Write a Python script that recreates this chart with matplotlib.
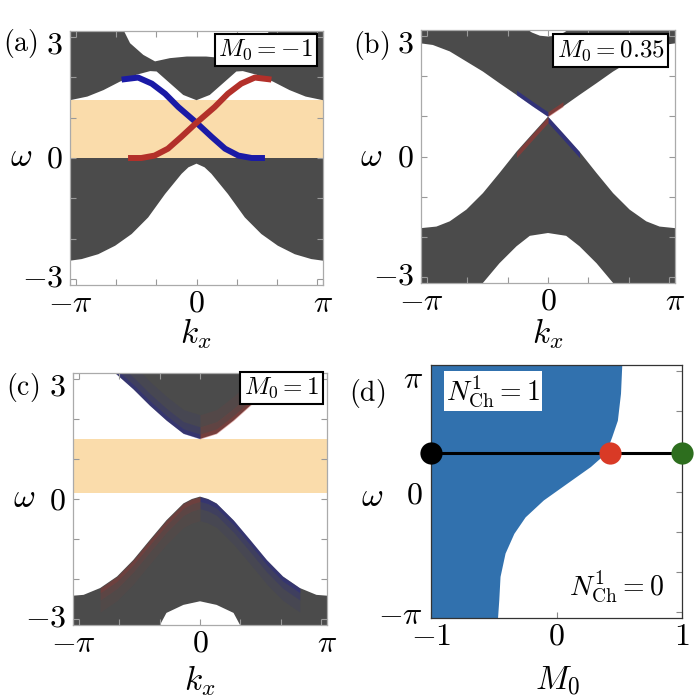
import numpy as np
import matplotlib
matplotlib.use("Agg")
import matplotlib.pyplot as plt
from matplotlib.transforms import ScaledTranslation

plt.rcParams["mathtext.fontset"] = "cm"
plt.rcParams["font.family"] = ["DejaVu Serif"]

PI = np.pi

# ---- panel (a): M0 = -1 ----
a_up_top_k = [-3.3, -1.98, -1.65, -1.32, -1.03, -0.66, -0.24, 0.0, 0.24, 0.66, 1.03, 1.32, 1.65, 1.98, 3.3]
a_up_top_w = [3.5, 3.5, 2.84, 2.55, 2.39, 2.47, 2.51, 2.51, 2.51, 2.47, 2.39, 2.55, 2.84, 3.5, 3.5]
a_up_bot_k = [-3.3, -3.14, -2.71, -2.31, -1.9, -1.49, -1.15, -0.99, -0.66, -0.33, 0.0, 0.33, 0.66, 0.99, 1.15, 1.49, 1.9, 2.31, 2.71, 3.14, 3.3]
a_up_bot_w = [1.43, 1.43, 1.52, 1.68, 1.89, 2.06, 2.15, 2.14, 1.85, 1.56, 1.43, 1.56, 1.85, 2.14, 2.15, 2.06, 1.89, 1.68, 1.52, 1.43, 1.43]
a_lo_top_k = [-3.3, 3.3]
a_lo_top_w = [0.0, 0.0]
a_lo_bot_k = [-3.3, -3.14, -2.85, -2.44, -2.02, -1.61, -1.2, -0.78, -0.37, -0.2, 0.0, 0.2, 0.37, 0.78, 1.2, 1.61, 2.02, 2.44, 2.85, 3.14, 3.3]
a_lo_bot_w = [-2.54, -2.54, -2.50, -2.38, -2.17, -1.88, -1.47, -0.89, -0.39, -0.23, -0.14, -0.23, -0.39, -0.89, -1.47, -1.88, -2.17, -2.38, -2.50, -2.54, -2.54]
a_gap = [0.0, 1.43]
a_blue_k = [-1.86, -1.45, -1.11, -0.78, -0.45, -0.02, 0.38, 0.71, 1.04, 1.37, 1.7]
a_blue_w = [1.94, 1.99, 1.84, 1.59, 1.26, 0.89, 0.52, 0.23, 0.06, 0.0, 0.0]
a_red_k = [-1.7, -1.37, -1.04, -0.71, -0.38, 0.02, 0.45, 0.78, 1.11, 1.45, 1.86]
a_red_w = [0.0, 0.0, 0.06, 0.23, 0.52, 0.89, 1.26, 1.59, 1.84, 1.99, 1.94]

# ---- panel (b): M0 = 0.35 ----
b_up_top_k = [-3.3, -0.58, -0.4, -0.2, 0.0, 0.2, 0.4, 0.58, 3.3]
b_up_top_w = [3.5, 3.2, 3.08, 3.0, 2.98, 3.0, 3.08, 3.2, 3.5]
b_up_bot_k = [-3.3, -3.15, -2.85, -2.43, -2.02, -1.61, -1.2, -0.78, -0.37, 0.0, 0.37, 0.78, 1.2, 1.61, 2.02, 2.43, 2.85, 3.15, 3.3]
b_up_bot_w = [2.81, 2.81, 2.77, 2.61, 2.36, 2.11, 1.82, 1.53, 1.24, 0.99, 1.24, 1.53, 1.82, 2.11, 2.36, 2.61, 2.77, 2.81, 2.81]
b_lo_top_k = [-3.3, -3.15, -2.76, -2.43, -2.02, -1.61, -1.2, -0.78, -0.37, 0.0, 0.37, 0.78, 1.2, 1.61, 2.02, 2.43, 2.76, 3.15, 3.3]
b_lo_top_w = [-1.78, -1.78, -1.74, -1.61, -1.32, -0.91, -0.41, 0.12, 0.58, 0.99, 0.58, 0.12, -0.41, -0.91, -1.32, -1.61, -1.74, -1.78, -1.78]
b_lo_bot_k = [-3.3, -2.0, -1.61, -1.2, -0.78, -0.45, 0.0, 0.45, 0.78, 1.2, 1.61, 2.0, 3.3]
b_lo_bot_w = [-3.6, -3.6, -3.14, -2.65, -2.23, -1.97, -1.90, -1.97, -2.23, -2.65, -3.14, -3.6, -3.6]

# ---- panel (c): M0 = 1 ----
c_up_top_k = [-2.4, 2.4]
c_up_top_w = [3.6, 3.6]
c_up_bot_k = [-2.4, -2.11, -1.65, -1.24, -0.83, -0.41, 0.0, 0.41, 0.83, 1.24, 1.65, 2.11, 2.4]
c_up_bot_w = [3.6, 3.15, 2.74, 2.33, 1.96, 1.63, 1.50, 1.63, 1.96, 2.33, 2.74, 3.15, 3.6]
c_lo_top_k = [-3.3, -3.13, -2.88, -2.47, -2.05, -1.65, -1.24, -0.83, -0.41, -0.2, 0.0, 0.2, 0.41, 0.83, 1.24, 1.65, 2.05, 2.47, 2.88, 3.13, 3.3]
c_lo_top_w = [-2.41, -2.41, -2.39, -2.22, -1.93, -1.52, -1.02, -0.53, -0.11, 0.0, 0.06, 0.0, -0.11, -0.53, -1.02, -1.52, -1.93, -2.22, -2.39, -2.41, -2.41]
c_lo_bot_k = [-3.3, -1.3, -0.99, -0.83, -0.41, 0.0, 0.41, 0.83, 0.99, 1.3, 3.3]
c_lo_bot_w = [-3.6, -3.6, -3.14, -2.84, -2.64, -2.55, -2.64, -2.84, -3.14, -3.6, -3.6]
c_gap = [0.15, 1.50]

# ---- panel (d): phase diagram ----
d_w = [3.3, 3.14, 2.44, 1.77, 1.36, 0.95, 0.62, 0.2, -0.21, -0.63, -1.04, -1.53, -2.11, -2.69, -3.14, -3.3]
d_m = [0.52, 0.52, 0.51, 0.485, 0.44, 0.39, 0.27, 0.08, -0.105, -0.25, -0.34, -0.41, -0.45, -0.46, -0.47, -0.47]
d_line_w = 0.95
d_dots_m = [-1.0, 0.43, 1.0]
d_dots_c = ["black", "#d93a26", "#2d6e1e"]

GRAY = "#4b4b4b"
GAP = "#fadcab"
BLUE = "#1a1aa6"
RED = "#b3302a"
FILL = "#3171ae"

fig = plt.figure(figsize=(7, 7), dpi=100)


def band(ax, kt, wt, kb, wb):
    xs = list(kt) + list(kb)[::-1]
    ys = list(wt) + list(wb)[::-1]
    ax.fill(xs, ys, color=GRAY, lw=0)


def nudge_y(ax, shifts):
    # move the outer y tick labels a few pixels towards the centre
    for lab, dy in zip(ax.get_yticklabels(), shifts):
        lab.set_transform(lab.get_transform() + ScaledTranslation(0, dy / 100, fig.dpi_scale_trans))


def style_k(ax):
    ax.set_xlim(-PI, PI)
    ax.set_ylim(-PI, PI)
    ax.set_xticks([-PI, 0, PI])
    ax.set_xticklabels([r"$-\pi$", r"$0$", r"$\pi$"])
    ax.set_xticks([-3, -2, -1, 1, 2, 3], minor=True)
    ax.set_yticks([-3, 0, 3])
    ax.set_yticklabels([r"$-3$", r"$0$", r"$3$"])
    ax.set_yticks([-2, -1, 1, 2], minor=True)
    ax.tick_params(which="both", direction="in", top=True, right=True,
                   length=4, width=0.8, color="#999999", labelsize=23)
    ax.tick_params(axis="x", pad=2)
    ax.tick_params(axis="y", pad=5)
    for s in ax.spines.values():
        s.set_color("#aaaaaa")
        s.set_linewidth(0.9)
    nudge_y(ax, [5, 2, -5])


def mbox(ax, x, y, txt):
    ax.text(x, y, txt, transform=ax.transAxes, ha="center", va="center",
            fontsize=18, zorder=10,
            bbox=dict(boxstyle="square,pad=0.15", fc="white", ec="black", lw=1.5))


# (a)
ax = fig.add_axes([70 / 700, 1 - 285 / 700, 253 / 700, 254 / 700])
ax.axhspan(a_gap[0], a_gap[1], color=GAP, lw=0, zorder=0)
band(ax, a_up_top_k, a_up_top_w, a_up_bot_k, a_up_bot_w)
band(ax, a_lo_top_k, a_lo_top_w, a_lo_bot_k, a_lo_bot_w)
ax.plot(a_blue_k, a_blue_w, color=BLUE, lw=4.3, solid_capstyle="butt", solid_joinstyle="round")
ax.plot(a_red_k, a_red_w, color=RED, lw=4.3, solid_capstyle="butt", solid_joinstyle="round")
style_k(ax)
mbox(ax, 0.774, 0.926, r"$M_0=-1$")

# (b)
ax = fig.add_axes([421 / 700, 1 - 283 / 700, 254 / 700, 253 / 700])
band(ax, b_up_top_k, b_up_top_w, b_up_bot_k, b_up_bot_w)
band(ax, b_lo_top_k, b_lo_top_w, b_lo_bot_k, b_lo_bot_w)
# edge-state tint close to the crossing
ax.fill_between(b_up_bot_k[7:10], b_up_bot_w[7:10], np.array(b_up_bot_w[7:10]) + 0.12, color=BLUE, alpha=0.5, lw=0)
ax.fill_between(b_lo_top_k[9:12], np.array(b_lo_top_w[9:12]) - 0.15, b_lo_top_w[9:12], color=BLUE, alpha=0.5, lw=0)
ax.fill_between(b_lo_top_k[7:10], np.array(b_lo_top_w[7:10]) - 0.15, b_lo_top_w[7:10], color=RED, alpha=0.5, lw=0)
ax.fill_between(b_up_bot_k[9:11], b_up_bot_w[9:11], np.array(b_up_bot_w[9:11]) + 0.12, color=RED, alpha=0.5, lw=0)
style_k(ax)
mbox(ax, 0.747, 0.919, r"$M_0=0.35$")

# (c)
ax = fig.add_axes([73 / 700, 1 - 625 / 700, 254 / 700, 252 / 700])
ax.axhspan(c_gap[0], c_gap[1], color=GAP, lw=0, zorder=0)
band(ax, c_up_top_k, c_up_top_w, c_up_bot_k, c_up_bot_w)
band(ax, c_lo_top_k, c_lo_top_w, c_lo_bot_k, c_lo_bot_w)
for off, al in [(0.12, 0.25), (0.3, 0.15), (0.6, 0.08)]:
    ax.fill_between(c_up_bot_k[1:7], c_up_bot_w[1:7], np.array(c_up_bot_w[1:7]) + off, color=BLUE, alpha=al, lw=0)
    ax.fill_between(c_up_bot_k[6:12], c_up_bot_w[6:12], np.array(c_up_bot_w[6:12]) + off, color=RED, alpha=al, lw=0)
    ax.fill_between(c_lo_top_k[3:11], np.array(c_lo_top_w[3:11]) - off, c_lo_top_w[3:11], color=RED, alpha=al * 0.8, lw=0)
    ax.fill_between(c_lo_top_k[10:18], np.array(c_lo_top_w[10:18]) - off, c_lo_top_w[10:18], color=BLUE, alpha=al, lw=0)
style_k(ax)
mbox(ax, 0.821, 0.942, r"$M_0=1$")

# (d)
ax = fig.add_axes([431 / 700, 1 - 618 / 700, 251 / 700, 253 / 700])
ax.fill_betweenx(d_w, -1.0, d_m, color=FILL, lw=0)
ax.plot([-1.0, 1.0], [d_line_w, d_line_w], color="black", lw=2.2, zorder=3)
for m, c in zip(d_dots_m, d_dots_c):
    ax.plot([m], [d_line_w], "o", ms=16, color=c, mec="none", zorder=4, clip_on=False)
ax.set_xlim(-1, 1)
ax.set_ylim(-PI, PI)
ax.set_xticks([-1, 0, 1])
ax.set_xticklabels([r"$-1$", r"$0$", r"$1$"])
ax.set_yticks([-3, 0, 3])
ax.set_yticklabels([r"$-\pi$", r"$0$", r"$\pi$"])
ax.set_yticks([-2, -1, 1, 2], minor=True)
ax.tick_params(which="both", direction="in", top=False, right=True,
               length=4, width=0.8, color="#888888", labelsize=23)
ax.tick_params(axis="y", which="both", left=False)
ax.tick_params(axis="y", pad=6)
ax.tick_params(axis="x", pad=2)
for s in ax.spines.values():
    s.set_color("#333333")
    s.set_linewidth(0.9)
nudge_y(ax, [0, 0, -5])
ax.text(0.247, 0.897, r"$N^1_{\rm Ch}=1$", transform=ax.transAxes, ha="center",
        va="center", fontsize=20,
        bbox=dict(boxstyle="square,pad=0.08", fc="white", ec="none"))
ax.text(0.739, 0.125, r"$N^1_{\rm Ch}=0$", transform=ax.transAxes, ha="center",
        va="center", fontsize=20)

# labels
for (x, y, t) in [(20, 43, r"$\mathrm{(a)}$"), (371, 45, r"$\mathrm{(b)}$"),
                  (23, 387, r"$\mathrm{(c)}$"), (367, 393, r"$\mathrm{(d)}$")]:
    fig.text(x / 700, 1 - y / 700, t, fontsize=20, ha="center", va="center")
for (x, y) in [(21, 157), (371, 157), (24, 498), (372, 497)]:
    fig.text(x / 700, 1 - y / 700, r"$\omega$", fontsize=24, ha="center", va="center")
for (x, y, t) in [(196, 334, r"$k_x$"), (548, 334, r"$k_x$"),
                  (200, 681, r"$k_x$"), (558, 681, r"$M_0$")]:
    fig.text(x / 700, 1 - y / 700, t, fontsize=24, ha="center", va="center")

plt.savefig("out.png", dpi=100)
